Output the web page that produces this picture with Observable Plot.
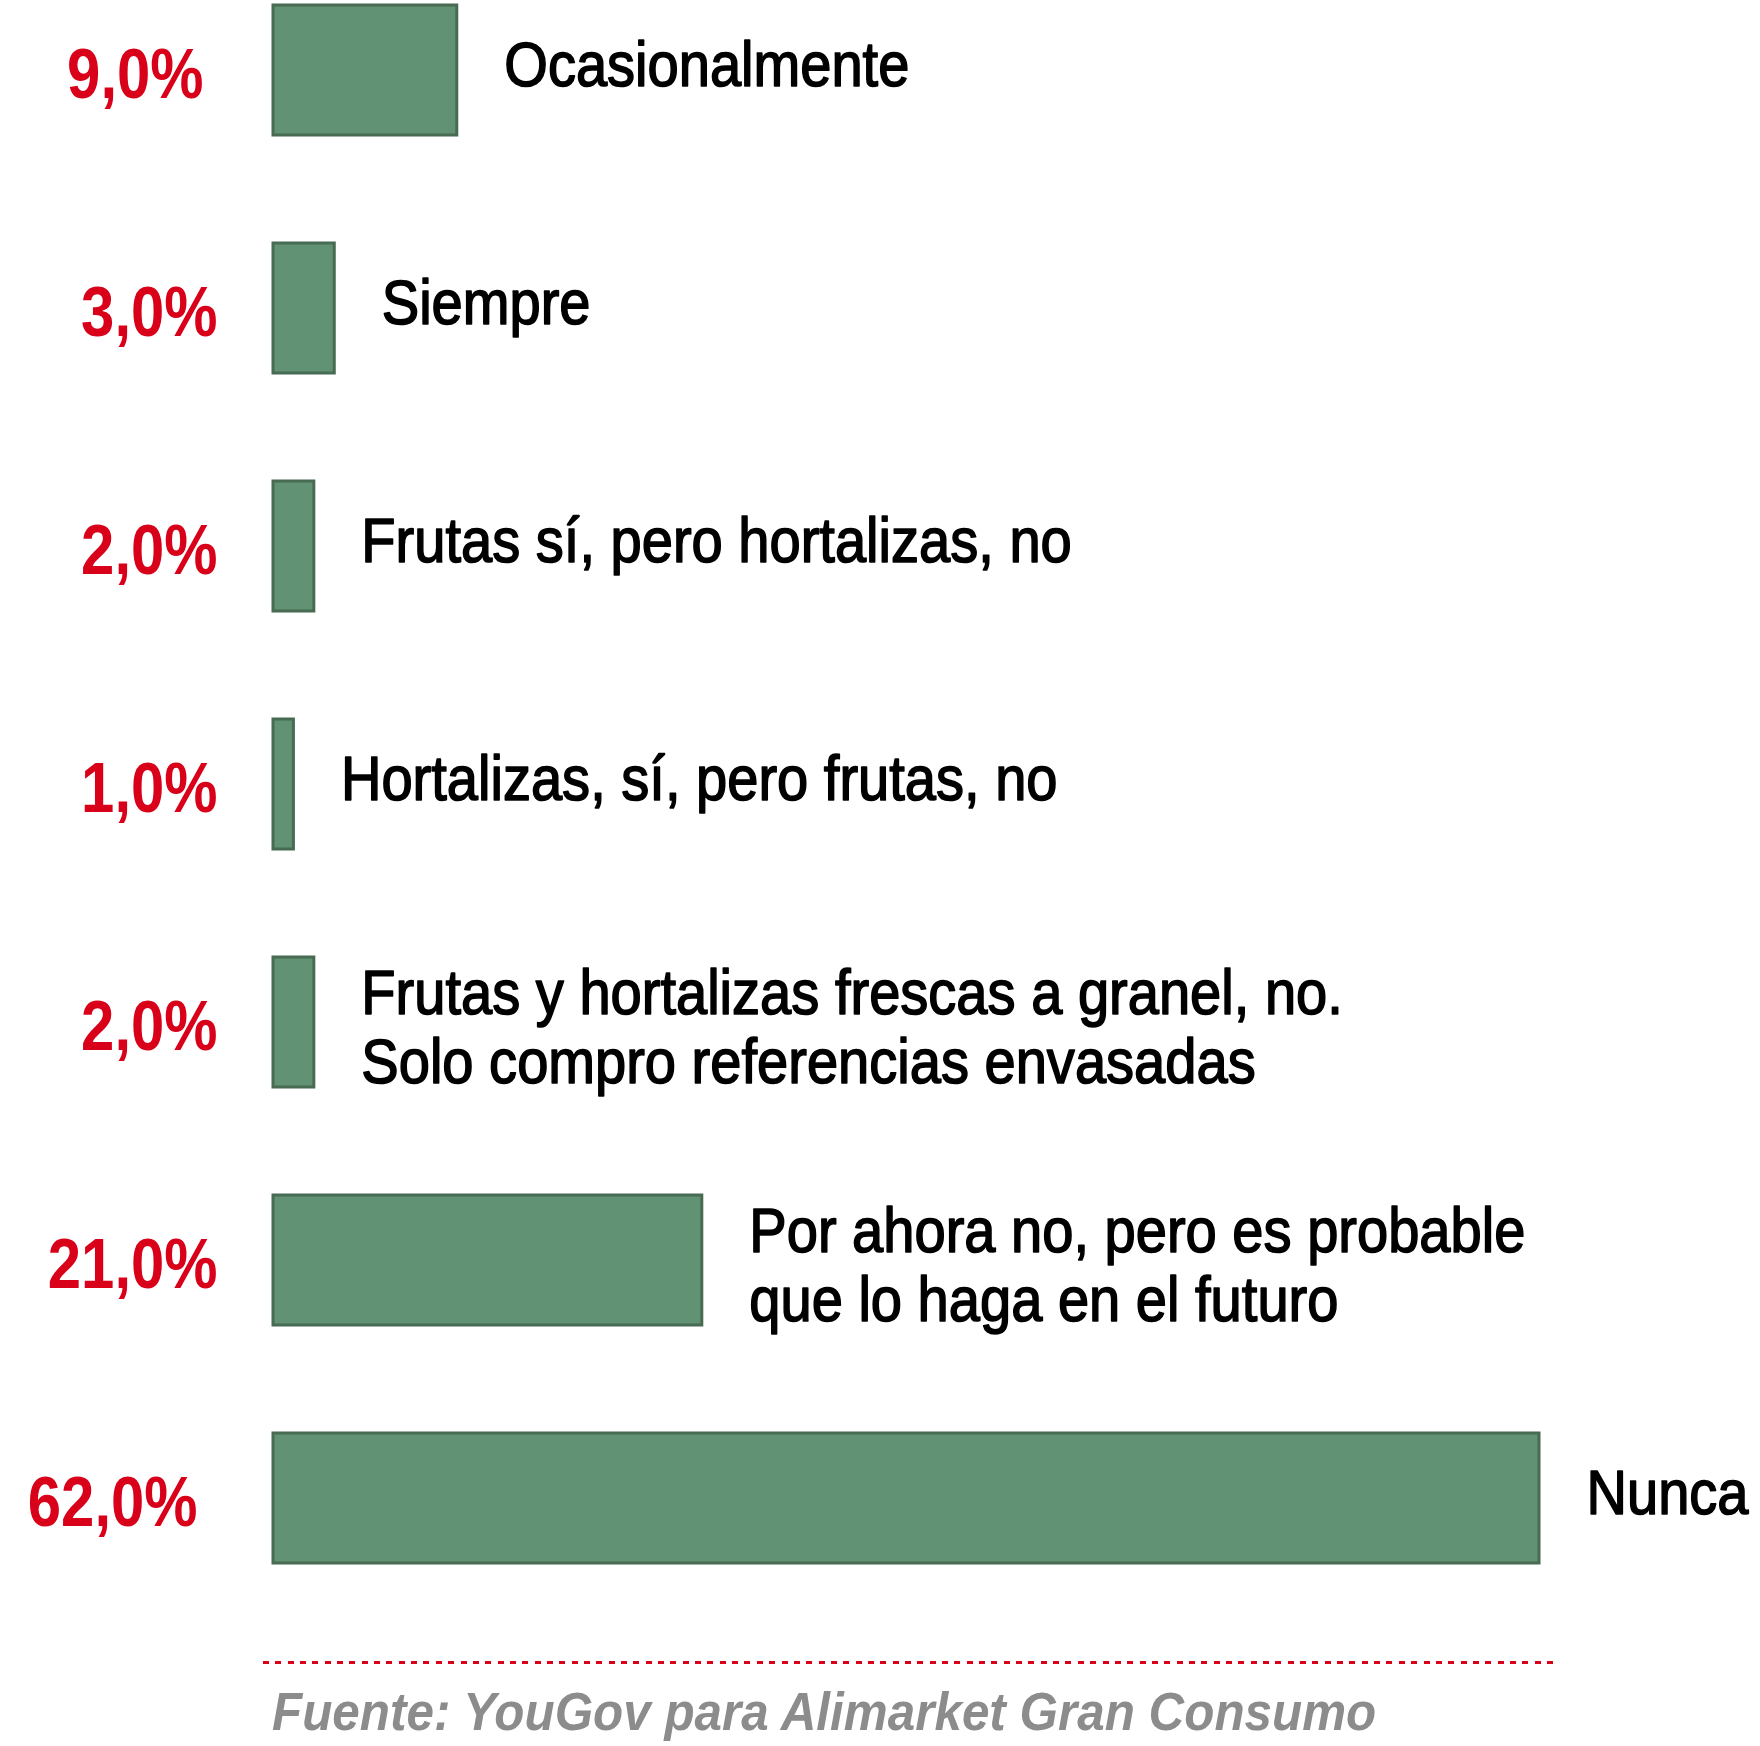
<!DOCTYPE html>
<html>
<head>
<meta charset="utf-8">
<script src="https://cdn.jsdelivr.net/npm/d3@7"></script>
<script src="https://cdn.jsdelivr.net/npm/@observablehq/plot@0.6"></script>
<style>
  html, body { margin: 0; padding: 0; background: #fff; }
  #wrap { position: relative; width: 1760px; height: 1746px; overflow: hidden; }
  #rule { position: absolute; left: 263px; top: 1661px; width: 1290px; height: 3px;
          background: repeating-linear-gradient(to right, #d9001a 0 6px, transparent 6px 12.346px); }
  #caption { position: absolute; left: 272px; top: 1685px; white-space: nowrap;
             font-family: 'Liberation Sans', Arial, sans-serif;
             font-style: italic; font-weight: bold; font-size: 53px; line-height: 53px; color: #8c8c8c;
             transform: scaleX(0.932); transform-origin: 0 0; }
</style>
</head>
<body>
<div id="wrap">
  <div id="chart"></div>
  <div id="rule"></div>
  <div id="caption">Fuente: YouGov para Alimarket Gran Consumo</div>
</div>
<script>
const categories = [
  "Ocasionalmente",
  "Siempre",
  "Frutas sí, pero hortalizas, no",
  "Hortalizas, sí, pero frutas, no",
  "Frutas y hortalizas frescas a granel, no.\nSolo compro referencias envasadas",
  "Por ahora no, pero es probable\nque lo haga en el futuro",
  "Nunca"
];
const values = [9, 3, 2, 1, 2, 21, 62];

const data = categories.map((c, i) => ({category: c, value: values[i]}));
const fmt = v => v.toFixed(1).replace(".", ",") + "%";
const font = "'Liberation Sans', Arial, sans-serif";
const red = "#d9001a";

const pctStyle = {x: d => 0, y: "category", text: d => fmt(d.value), textAnchor: "end", dy: 5,
                  fill: red, fontSize: 70, fontWeight: "bold"};
const labelStyle = {x: "value", y: "category", text: "category",
                    textAnchor: "start", lineAnchor: "middle", dx: 47, lineHeight: 1.09,
                    fill: "#000", stroke: "#000", strokeWidth: 1.6, fontSize: 63};

const chart = Plot.plot({
  width: 1760,
  height: 1650,
  margin: 0,
  style: {fontFamily: font, background: "#fff"},
  x: {domain: [0, 62], range: [273, 1539], axis: null},
  y: {domain: categories, range: [4.5, 1563.5], paddingInner: 0.4538, paddingOuter: 0, axis: null},
  marks: [
    Plot.barX(data, {x1: 0, x2: "value", y: "category", fill: "#609273", stroke: "#476b53", strokeWidth: 3}),
    Plot.text(data.filter(d => d.value !== 9 && d.value !== 62), {...pctStyle, dx: -56}),
    Plot.text(data.filter(d => d.value === 9), {...pctStyle, dx: -70}),
    Plot.text(data.filter(d => d.value === 62), {...pctStyle, dx: -76}),
    Plot.text(data.filter(d => !d.category.includes("\n")), {...labelStyle, dy: -6}),
    Plot.text(data.filter(d => d.category.includes("\n")), {...labelStyle, dy: 4})
  ]
});

// condense the type (the reference uses a narrow face)
const textGroups = chart.querySelectorAll('g[aria-label="text"]');
textGroups.forEach((g, gi) => {
  const sx = gi < 3 ? 0.855 : 0.89;
  g.querySelectorAll("text").forEach(t => {
    const tr = t.getAttribute("transform") || "";
    t.setAttribute("transform", tr + ` scale(${sx},1)`);
  });
});

document.getElementById("chart").appendChild(chart);
</script>
</body>
</html>
